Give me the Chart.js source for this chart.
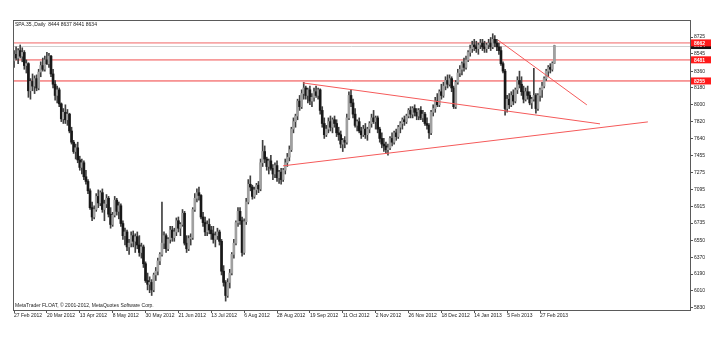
<!DOCTYPE html>
<html><head><meta charset="utf-8">
<script src="https://cdn.jsdelivr.net/npm/chart.js@4.4.1/dist/chart.umd.min.js"></script>
<style>html,body{margin:0;padding:0;background:#fff;}canvas{display:block;}</style>
</head><body>
<canvas id="c" width="728" height="352" style="width:728px;height:352px"></canvas>
<script>
const titleText = "SPA.35.,Daily  8444 8637 8441 8634";
const copyrightText = "MetaTrader FLOAT, \u00A9 2001-2012, MetaQuotes Software Corp.";
const dateLabels = ["27 Feb 2012","20 Mar 2012","13 Apr 2012","8 May 2012","30 May 2012","21 Jun 2012","13 Jul 2012","6 Aug 2012","28 Aug 2012","19 Sep 2012","11 Oct 2012","2 Nov 2012","26 Nov 2012","18 Dec 2012","14 Jan 2013","5 Feb 2013","27 Feb 2013"];
const dateLabelBars = [0,16,32,48,64,80,96,112,128,144,160,176,192,208,224,240,256];
const priceTicks = [8725,8545,8360,8180,8000,7820,7640,7455,7275,7095,6915,6735,6550,6370,6190,6010,5830];

const opens = [
8470,8540,8500,8580,8520,8560,8420,8440,8150,8250,
8200,8280,8180,8350,8420,8380,8480,8440,8520,8330,
8220,8100,8160,8010,7850,7920,7840,7900,7720,7600,
7500,7540,7410,7330,7380,7230,7180,7080,6900,6800,
6880,7020,6950,7060,6880,6940,7000,6830,6720,6820,
6980,6860,6920,6730,6600,6640,6480,6520,6600,6540,
6590,6500,6420,6480,6300,6120,6080,6100,6020,6180,
6220,6330,6400,6520,6600,6460,6560,6660,6580,6640,
6760,6680,6720,6840,6520,6460,6570,6580,6880,7000,
7060,7030,6800,6740,6640,6720,6660,6620,6560,6600,
6640,6540,6220,6100,5960,6100,6200,6400,6520,6740,
6860,6760,6420,6750,6960,7150,7120,7020,7090,7140,
7100,7380,7500,7420,7340,7400,7320,7260,7350,7220,
7280,7200,7300,7380,7440,7520,7740,7820,7880,8040,
7980,8120,8180,8100,8160,8040,8080,8140,8100,8160,
7940,7800,7680,7740,7820,7760,7840,7800,7700,7680,
7580,7620,7600,7860,8100,8020,7900,7780,7820,7720,
7680,7740,7680,7740,7800,7860,7820,7860,7740,7640,
7580,7560,7520,7540,7640,7600,7700,7660,7760,7800,
7840,7820,7880,7940,7900,7960,7920,7880,7940,7860,
7900,7800,7780,7700,7920,7960,8040,8000,8140,8100,
8200,8260,8220,8280,8180,7980,8240,8340,8380,8440,
8400,8480,8560,8600,8640,8620,8600,8640,8660,8620,
8600,8640,8660,8620,8700,8660,8620,8580,8440,8360,
7960,8060,8000,8100,8040,8160,8260,8220,8140,8060,
8140,8100,8020,8060,8100,7960,8100,8160,8200,8280,
8360,8400,8380,8444];
const highs = [
8580,8620,8600,8640,8610,8580,8480,8450,8280,8330,
8310,8320,8380,8460,8500,8520,8560,8550,8530,8380,
8260,8200,8180,8020,7960,8000,7950,7910,7760,7620,
7580,7600,7450,7420,7400,7300,7200,7100,6960,6920,
7050,7090,7080,7100,6980,7040,7020,6900,6850,7020,
7000,6960,6940,6760,6680,6660,6560,6640,6650,6620,
6640,6600,6520,6500,6320,6200,6160,6130,6200,6260,
6360,6420,6960,6640,6620,6580,6700,6700,6680,6790,
6800,6740,6880,6860,6600,6600,6620,6900,7050,7100,
7120,7040,6850,6800,6760,6780,6700,6700,6640,6680,
6660,6560,6280,6120,6140,6240,6420,6560,6760,6900,
6900,6800,6780,7000,7200,7240,7140,7120,7160,7180,
7420,7620,7560,7440,7420,7460,7360,7380,7400,7300,
7320,7320,7420,7480,7560,7760,7860,7900,8060,8100,
8160,8240,8200,8180,8200,8120,8180,8200,8180,8170,
7980,7860,7780,7860,7880,7860,7880,7840,7760,7720,
7640,7660,7900,8140,8160,8060,7960,7840,7860,7760,
7780,7800,7760,7820,7900,7940,7880,7880,7760,7700,
7640,7600,7580,7660,7700,7720,7740,7780,7820,7860,
7880,7900,7960,7980,7980,8000,7960,7960,7980,7940,
7920,7860,7800,7940,8000,8080,8120,8160,8220,8240,
8300,8320,8320,8300,8200,8260,8380,8420,8460,8500,
8520,8580,8640,8680,8700,8680,8660,8700,8700,8680,
8660,8700,8720,8760,8740,8700,8660,8620,8460,8380,
8100,8120,8140,8160,8180,8300,8360,8300,8200,8180,
8200,8140,8080,8390,8120,8120,8180,8240,8300,8380,
8420,8440,8460,8637];
const lows = [
8400,8480,8440,8500,8460,8380,8340,8080,8060,8150,
8120,8150,8160,8300,8360,8360,8430,8400,8300,8180,
8050,8020,7980,7820,7800,7800,7780,7700,7580,7480,
7420,7380,7300,7260,7200,7150,7050,6880,6760,6780,
6860,6900,6920,6850,6760,6900,6800,6680,6700,6800,
6820,6780,6700,6560,6500,6440,6400,6480,6480,6420,
6460,6380,6360,6260,6100,6020,5990,5960,6000,6120,
6180,6290,6380,6460,6420,6440,6520,6540,6540,6600,
6640,6600,6700,6500,6420,6440,6500,6560,6860,6960,
6980,6780,6700,6600,6600,6620,6560,6520,6480,6560,
6500,6180,6060,5900,5940,6040,6180,6360,6500,6700,
6720,6380,6400,6720,6940,7080,6990,7000,7040,7060,
7080,7340,7380,7300,7260,7300,7200,7220,7180,7160,
7150,7180,7260,7340,7400,7500,7700,7760,7840,7940,
7960,8060,8060,8020,8000,7980,8040,8080,8060,7900,
7760,7640,7660,7700,7720,7700,7760,7660,7620,7540,
7500,7540,7580,7840,7980,7860,7760,7720,7700,7640,
7660,7640,7620,7700,7760,7800,7740,7700,7600,7540,
7500,7480,7460,7520,7560,7580,7620,7640,7700,7740,
7780,7800,7860,7860,7860,7880,7840,7840,7840,7820,
7780,7740,7640,7680,7880,7920,7980,7980,8060,8080,
8160,8180,8200,8140,7960,7960,8220,8300,8320,8360,
8380,8460,8520,8560,8580,8560,8540,8600,8580,8560,
8560,8600,8580,8600,8620,8580,8540,8420,8340,7890,
7920,7960,7980,8000,8020,8120,8180,8100,8020,8040,
8060,8000,7960,8040,7910,7940,8040,8080,8180,8260,
8300,8340,8360,8441];
const closes = [
8540,8500,8580,8520,8560,8420,8440,8150,8250,8200,
8280,8180,8350,8420,8380,8480,8440,8520,8330,8220,
8100,8160,8010,7850,7920,7840,7900,7720,7600,7500,
7540,7410,7330,7380,7230,7180,7080,6900,6800,6880,
7020,6950,7060,6880,6940,7000,6830,6720,6820,6980,
6860,6920,6730,6600,6640,6480,6520,6600,6540,6590,
6500,6420,6480,6300,6120,6080,6100,6020,6180,6220,
6330,6400,6520,6600,6460,6560,6660,6580,6640,6760,
6680,6720,6840,6520,6460,6570,6580,6880,7000,7060,
7030,6800,6740,6640,6720,6660,6620,6560,6600,6640,
6540,6220,6100,5960,6100,6200,6400,6520,6740,6860,
6760,6420,6750,6960,7150,7120,7020,7090,7140,7100,
7380,7500,7420,7340,7400,7320,7260,7350,7220,7280,
7200,7300,7380,7440,7520,7740,7820,7880,8040,7980,
8120,8180,8100,8160,8040,8080,8140,8100,8160,7940,
7800,7680,7740,7820,7760,7840,7800,7700,7680,7580,
7620,7600,7860,8100,8020,7900,7780,7820,7720,7680,
7740,7680,7740,7800,7860,7820,7860,7740,7640,7580,
7560,7520,7540,7640,7600,7700,7660,7760,7800,7840,
7820,7880,7940,7900,7960,7920,7880,7940,7860,7900,
7800,7780,7700,7920,7960,8040,8000,8140,8100,8200,
8260,8220,8280,8180,7980,8240,8340,8380,8440,8400,
8480,8560,8600,8640,8620,8600,8640,8660,8620,8600,
8640,8660,8620,8700,8660,8620,8580,8440,8360,7960,
8060,8000,8100,8040,8160,8260,8220,8140,8060,8140,
8100,8020,8060,8100,7960,8100,8160,8200,8280,8360,
8400,8380,8444,8634];

const levelValues = [8662, 8481, 8255];
const levelLabels = ["8662", "8481", "8255"];
const levelColors = ['rgba(244,130,130,0.7)', 'rgba(244,120,120,0.75)', 'rgba(238,40,40,0.9)'];
const levelWidths = [1.6, 1.6, 1];
const lastPrice = 8634;
const lastPriceLabel = "8634";
// trend lines: [bar index, price] endpoints
const triangleUpper = [[140.6, 8234], [285.2, 7796]];
const triangleLower = [[130.9, 7347], [308.5, 7817]];
const fallingLine = [[235.5, 8693], [278.8, 7999]];

const FONT = '"Liberation Sans", Arial, sans-serif';
const idx = closes.map((_, i) => i);
const wickData = idx.map(i => ({x: i, y: [lows[i], highs[i]]}));
const bodyData = idx.map(i => ({x: i, y: [Math.min(opens[i], closes[i]), Math.max(opens[i], closes[i])]}));
const bodyColors = idx.map(i => closes[i] >= opens[i] ? '#a0a0a0' : '#181818');
const toPts = seg => seg.map(p => ({x: p[0], y: p[1]}));

const mt4 = {
  id: 'mt4',
  beforeDatasetsDraw(chart) {
    const {ctx, chartArea: a, scales: {y}} = chart;
    ctx.save();
    ctx.beginPath(); ctx.rect(a.left, a.top, a.right - a.left, a.bottom - a.top); ctx.clip();
    let py = Math.round(y.getPixelForValue(lastPrice)) + 0.5;
    ctx.strokeStyle = '#d0d0d0'; ctx.lineWidth = 1;
    ctx.beginPath(); ctx.moveTo(a.left, py); ctx.lineTo(a.right, py); ctx.stroke();
    levelValues.forEach((v, k) => {
      const yy = y.getPixelForValue(v);
      ctx.strokeStyle = levelColors[k];
      ctx.lineWidth = levelWidths[k];
      ctx.beginPath(); ctx.moveTo(a.left, yy); ctx.lineTo(a.right, yy); ctx.stroke();
    });
    ctx.restore();
  },
  afterDraw(chart) {
    const {ctx, chartArea: a, scales: {y}} = chart;
    ctx.save();
    ctx.strokeStyle = '#5a5a5a'; ctx.lineWidth = 1;
    ctx.strokeRect(Math.round(a.left) + 0.5, Math.round(a.top) + 0.5, Math.round(a.right - a.left), Math.round(a.bottom - a.top));
    ctx.font = '5px ' + FONT; ctx.fillStyle = '#222'; ctx.textBaseline = 'middle'; ctx.textAlign = 'left';
    ctx.fillText(titleText, a.left + 2, a.top + 5);
    ctx.fillText(copyrightText, a.left + 2, a.bottom - 4);
    const box = (v, txt, col) => {
      const yy = y.getPixelForValue(v);
      ctx.fillStyle = col; ctx.fillRect(a.right + 1, yy - 3.5, 20, 7);
      ctx.fillStyle = '#fff'; ctx.font = 'bold 5px ' + FONT; ctx.textAlign = 'left';
      ctx.fillText(txt, a.right + 4, yy + 0.3);
    };
    box(lastPrice, lastPriceLabel, '#111');
    levelValues.forEach((v, k) => box(v, levelLabels[k], '#ff1a1a'));
    ctx.restore();
  }
};

const lineDs = (seg) => ({type: 'line', data: toPts(seg), borderColor: 'rgb(245,90,90)', borderWidth: 1, pointRadius: 0, fill: false, order: 0, clip: false});

new Chart(document.getElementById('c'), {
  type: 'bar',
  data: {
    datasets: [
      {data: wickData, backgroundColor: '#404040', barThickness: 1, grouped: false, order: 2},
      {data: bodyData, backgroundColor: bodyColors, barThickness: 2, minBarLength: 1, grouped: false, order: 1},
      lineDs(triangleUpper), lineDs(triangleLower), lineDs(fallingLine)
    ]
  },
  options: {
    responsive: false, animation: false,
    layout: {padding: {left: 13, top: 20, right: 0, bottom: 0}},
    plugins: {legend: {display: false}, tooltip: {enabled: false}},
    scales: {
      x: {
        type: 'linear', min: -0.5, max: 329, offset: false, bounds: 'data',
        afterBuildTicks: s => { s.ticks = dateLabelBars.map(v => ({value: v})); },
        afterFit: s => { s.height = 42; },
        ticks: {autoSkip: false, maxRotation: 0, minRotation: 0, align: 'start', padding: 0, color: '#222',
          font: {family: FONT, size: 5}, callback: v => dateLabels[dateLabelBars.indexOf(v)]},
        grid: {drawOnChartArea: false, tickLength: 3, color: '#555', tickColor: '#555', offset: false},
        border: {display: false}
      },
      y: {
        type: 'linear', position: 'right', min: 5805, max: 8907, bounds: 'data',
        afterBuildTicks: s => { s.ticks = priceTicks.map(v => ({value: v})); },
        afterFit: s => { s.width = 38; },
        ticks: {padding: 1, color: '#222', font: {family: FONT, size: 5}, callback: v => String(v)},
        grid: {drawOnChartArea: false, tickLength: 3, color: '#555', tickColor: '#555'},
        border: {display: false}
      }
    }
  },
  plugins: [mt4]
});
</script>
</body></html>
